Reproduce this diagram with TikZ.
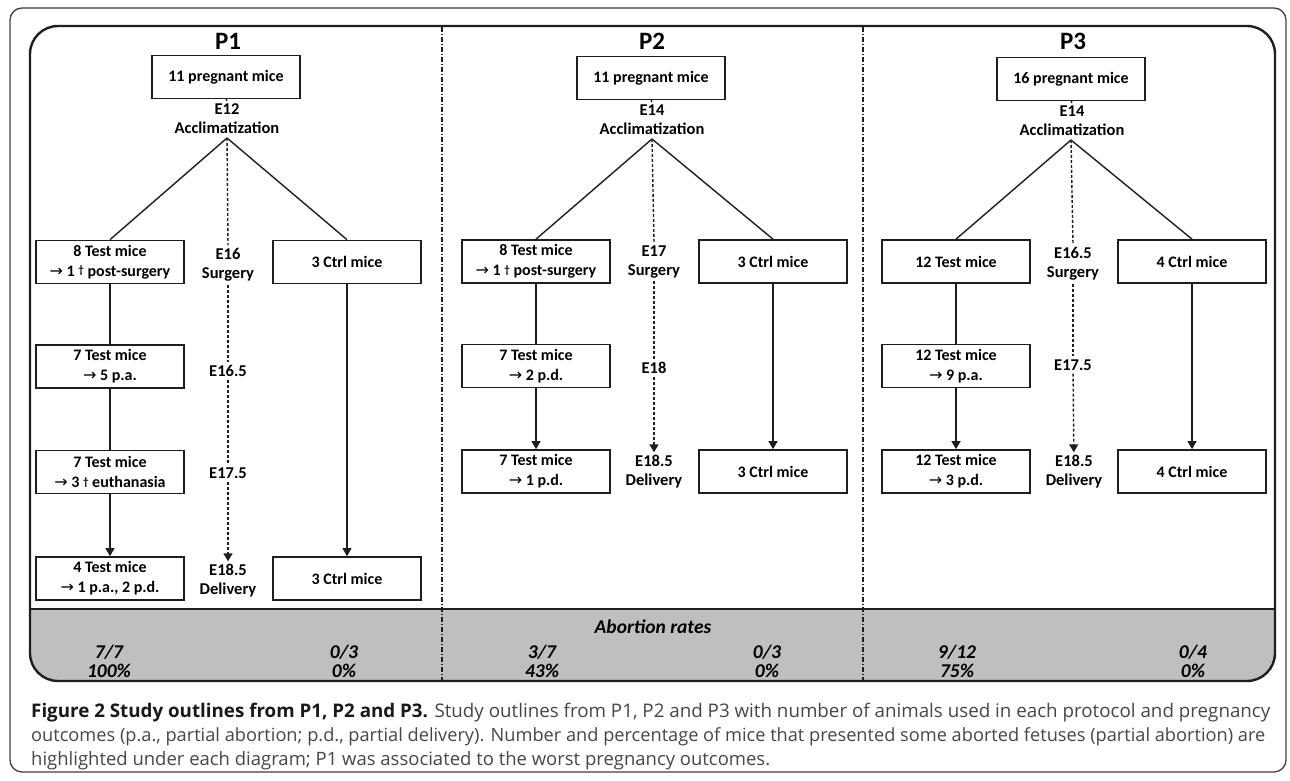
\documentclass[tikz,border=0pt]{standalone}
\usepackage{graphicx}
\usepackage{fontspec}
\setmainfont{Carlito}
\newfontfamily\capfont{Open Sans}
\newfontfamily\symf{DejaVu Sans}
\usetikzlibrary{arrows.meta}
\definecolor{band}{RGB}{191,191,191}
\definecolor{ink}{RGB}{30,30,30}
\definecolor{captxt}{RGB}{70,70,70}
\newcommand{\arr}{{\symf\mdseries\fontsize{16}{16}\selectfont →}}
\newcommand{\mydag}{\raisebox{2.5pt}{\fontsize{11}{11}\selectfont †}}
\tikzset{
  box/.style={draw=ink, line width=1.7pt, minimum width=148pt, minimum height=43pt,
    align=center, inner sep=2pt, font=\bfseries\fontsize{16}{20}\selectfont},
  lab/.style={align=center, inner sep=3pt, font=\bfseries\fontsize{16.5}{19}\selectfont},
  ttl/.style={font=\bfseries\fontsize{25}{25}\selectfont},
  conn/.style={draw=ink, line width=1.4pt},
  tl/.style={conn, dash pattern=on 3pt off 2pt},
  tip/.style={-{Triangle[width=9pt,length=8pt]}},
  bandtxt/.style={font=\bfseries\itshape\fontsize{19.5}{19}\selectfont, align=center, inner sep=0pt},
  sep/.style={draw=ink, line width=1.3pt, dash pattern=on 5pt off 2pt on 1pt off 2pt},
  capline/.style={anchor=west, inner sep=0pt, text=captxt, font=\capfont\fontsize{20}{24}\selectfont}
}
\begin{document}
\begin{tikzpicture}[x=1pt,y=-1pt]
\useasboundingbox (0,0) rectangle (1290,780);
% outer frame
\draw[draw=black!75, line width=1.3pt, rounded corners=12pt] (10,8) rectangle (1286,772);
% band
\begin{scope}
\clip[rounded corners=28pt] (30,26) rectangle (1275,681);
\fill[band] (30,609) rectangle (1275,681);
\end{scope}
\draw[ink, line width=2pt] (30,609) -- (1275,609);
\draw[ink, line width=2.4pt, rounded corners=28pt] (30,26) rectangle (1275,681);
% separators
\coordinate (sa1) at (442,27); \coordinate (sa2) at (442,680);
\coordinate (sb1) at (863,27); \coordinate (sb2) at (863,680);
\draw[sep] (sa1) -- (sa2);
\draw[sep] (sb1) -- (sb2);

% ---------------- P1 ----------------
\node[ttl] (P1) at (228,41) {P1};
\node[box] (t1) at (226,77) {11 pregnant mice};
\node[lab] (a1) at (227,119) {E12\\Acclimatization};
\coordinate (x1) at (227,138);
\node[box] (b11) at (110,262) {8 Test mice\\\arr\ 1 \mydag\ post-surgery};
\node[box] (b12) at (110,366.5) {7 Test mice\\\arr\ 5 p.a.};
\node[box] (b13) at (110,472) {7 Test mice\\\arr\ 3 \mydag\ euthanasia};
\node[box] (b14) at (110,578.5) {4 Test mice\\\arr\ 1 p.a., 2 p.d.};
\node[box] (c11) at (347,262) {3 Ctrl mice};
\node[box] (c14) at (347,578.5) {3 Ctrl mice};
\node[lab] (s11) at (228,265) {E16\\Surgery};
\node[lab] (s12) at (228,371) {E16.5};
\node[lab] (s13) at (228,473) {E17.5};
\node[lab] (s14) at (228,581) {E18.5\\Delivery};
\draw[conn] (t1.south) -- (a1.north);
\draw[conn] (x1) -- (b11.north);
\draw[conn] (x1) -- (c11.north);
\draw[conn] (b11) -- (b12);
\draw[conn] (b12) -- (b13);
\draw[conn, tip] (b13) -- (b14);
\draw[conn, tip] (c11) -- (c14);
\draw[tl] (x1) -- (s11.north);
\draw[tl] (s11) -- (s12);
\draw[tl] (s12) -- (s13);
\draw[tl, tip] (s13) -- (s14);

% ---------------- P2 ----------------
\node[ttl] (P2) at (652,41) {P2};
\node[box] (t2) at (651,78) {11 pregnant mice};
\node[lab] (a2) at (652,120) {E14\\Acclimatization};
\coordinate (x2) at (652,139);
\node[box] (b21) at (536,261.5) {8 Test mice\\\arr\ 1 \mydag\ post-surgery};
\node[box] (b22) at (536,366) {7 Test mice\\\arr\ 2 p.d.};
\node[box] (b23) at (536,471.5) {7 Test mice\\\arr\ 1 p.d.};
\node[box] (c21) at (773,261.5) {3 Ctrl mice};
\node[box] (c23) at (773,471.5) {3 Ctrl mice};
\node[lab] (s21) at (654,262) {E17\\Surgery};
\node[lab] (s22) at (654,368) {E18};
\node[lab] (s23) at (654,472) {E18.5\\Delivery};
\draw[conn] (t2.south) -- (a2.north);
\draw[conn] (x2) -- (b21.north);
\draw[conn] (x2) -- (c21.north);
\draw[conn] (b21) -- (b22);
\draw[conn, tip] (b22) -- (b23);
\draw[conn, tip] (c21) -- (c23);
\draw[tl] (x2) -- (s21.north);
\draw[tl] (s21) -- (s22);
\draw[tl, tip] (s22) -- (s23);

% ---------------- P3 ----------------
\node[ttl] (P3) at (1073,41) {P3};
\node[box] (t3) at (1071,79) {16 pregnant mice};
\node[lab] (a3) at (1072,121) {E14\\Acclimatization};
\coordinate (x3) at (1071,140);
\node[box] (b31) at (956,261.5) {12 Test mice};
\node[box] (b32) at (956,366) {12 Test mice\\\arr\ 9 p.a.};
\node[box] (b33) at (956,471.5) {12 Test mice\\\arr\ 3 p.d.};
\node[box] (c31) at (1192,261.5) {4 Ctrl mice};
\node[box] (c33) at (1192,471.5) {4 Ctrl mice};
\node[lab] (s31) at (1073,264) {E16.5\\Surgery};
\node[lab] (s32) at (1073,365) {E17.5};
\node[lab] (s33) at (1074,472) {E18.5\\Delivery};
\draw[conn] (t3.south) -- (a3.north);
\draw[conn] (x3) -- (b31.north);
\draw[conn] (x3) -- (c31.north);
\draw[conn] (b31) -- (b32);
\draw[conn, tip] (b32) -- (b33);
\draw[conn, tip] (c31) -- (c33);
\draw[tl] (x3) -- (s31.north);
\draw[tl] (s31) -- (s32);
\draw[tl, tip] (s32) -- (s33);

% ---------------- band ----------------
\node[bandtxt] (ar) at (653,627) {Abortion rates};
\node[bandtxt] (v11) at (109,661) {7/7\\100\%};
\node[bandtxt] (v12) at (344,661) {0/3\\0\%};
\node[bandtxt] (v21) at (542,661) {3/7\\43\%};
\node[bandtxt] (v22) at (767,661) {0/3\\0\%};
\node[bandtxt] (v31) at (957,661) {9/12\\75\%};
\node[bandtxt] (v32) at (1193,661) {0/4\\0\%};

% ---------------- caption ----------------
\node[capline] (cap1) at (31,713) {\resizebox{1239pt}{!}{{\bfseries\color{black!90}Figure 2 Study outlines from P1, P2 and P3.} Study outlines from P1, P2 and P3 with number of animals used in each protocol and pregnancy}};
\node[capline] (cap2) at (31,737) {\resizebox{1234pt}{!}{outcomes (p.a., partial abortion; p.d., partial delivery). Number and percentage of mice that presented some aborted fetuses (partial abortion) are}};
\node[capline] (cap3) at (31,761) {\resizebox{739pt}{!}{highlighted under each diagram; P1 was associated to the worst pregnancy outcomes.}};
\end{tikzpicture}
\end{document}
